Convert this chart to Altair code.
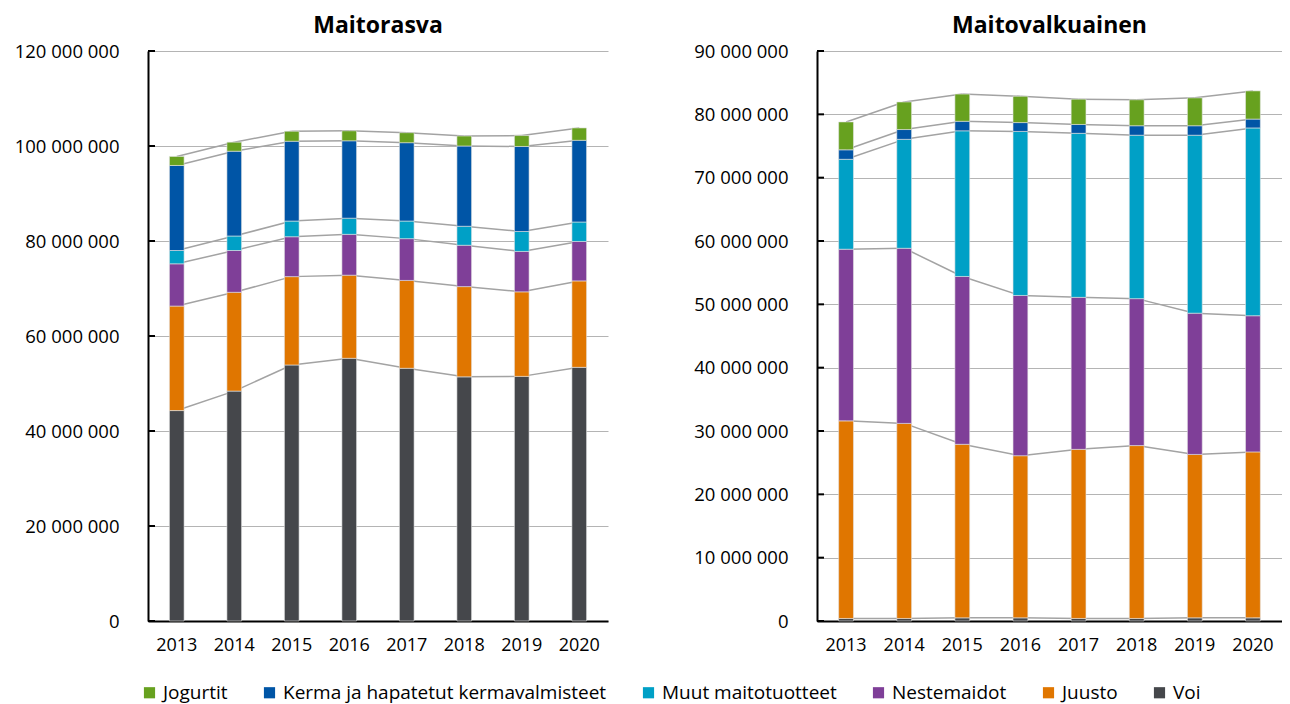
import altair as alt
import pandas as pd

years = ["2013", "2014", "2015", "2016", "2017", "2018", "2019", "2020"]

# stacking order, bottom to top
stack_series = ["Voi", "Juusto", "Nestemaidot", "Muut maitotuotteet",
                "Kerma ja hapatetut kermavalmisteet", "Jogurtit"]
legend_series = ["Jogurtit", "Kerma ja hapatetut kermavalmisteet",
                 "Muut maitotuotteet", "Nestemaidot", "Juusto", "Voi"]
legend_colors = ["#67a11f", "#0055a6", "#00a0c6", "#7f3f98", "#e07600", "#45474b"]

# Maitorasva (millions)
fat_voi = [44.3, 48.4, 53.9, 55.3, 53.2, 51.4, 51.5, 53.4]
fat_juusto = [22.0, 20.8, 18.6, 17.5, 18.5, 19.0, 17.8, 18.2]
fat_nest = [8.9, 8.8, 8.4, 8.6, 8.8, 8.7, 8.5, 8.3]
fat_muut = [2.8, 3.05, 3.3, 3.4, 3.7, 4.0, 4.2, 4.1]
fat_kerma = [17.9, 17.85, 16.8, 16.3, 16.5, 16.9, 17.9, 17.2]
fat_jog = [1.9, 1.9, 2.1, 2.1, 2.1, 2.1, 2.3, 2.6]

# Maitovalkuainen (millions)
prot_voi = [0.4, 0.4, 0.5, 0.5, 0.4, 0.4, 0.5, 0.5]
prot_juusto = [31.2, 30.8, 27.4, 25.6, 26.7, 27.3, 25.8, 26.2]
prot_nest = [27.1, 27.65, 26.5, 25.3, 24.0, 23.2, 22.3, 21.5]
prot_muut = [14.2, 17.2, 23.0, 25.9, 25.9, 25.8, 28.1, 29.65]
prot_kerma = [1.5, 1.55, 1.5, 1.4, 1.4, 1.5, 1.5, 1.4]
prot_jog = [4.4, 4.35, 4.3, 4.15, 4.0, 4.1, 4.4, 4.45]

fat_ticks = [0, 20, 40, 60, 80, 100, 120]
prot_ticks = [0, 10, 20, 30, 40, 50, 60, 70, 80, 90]

FONT = "Open Sans"


def build(series_lists):
    rows, lines = [], []
    cum = [[0.0] * len(years)]
    for k, (name, vals) in enumerate(zip(stack_series, series_lists)):
        prev = cum[-1]
        top = [p + v for p, v in zip(prev, vals)]
        cum.append(top)
        for i, y in enumerate(years):
            rows.append({"year": y, "series": name, "value": vals[i] * 1e6, "order": k})
        for i in range(len(years) - 1):
            lines.append({"year": years[i], "next": years[i + 1],
                          "y0": top[i] * 1e6, "y1": top[i + 1] * 1e6, "series": name})
    return pd.DataFrame(rows), pd.DataFrame(lines)


def panel(series_lists, ticks_m, title, width):
    df, lines = build(series_lists)
    tick_vals = [t * 1e6 for t in ticks_m]
    ymax = tick_vals[-1]
    xscale = alt.Scale(domain=years, paddingInner=0.745, paddingOuter=0.3725)
    yscale = alt.Scale(domain=[0, ymax], nice=False)
    xaxis = alt.Axis(title=None, labelAngle=0, ticks=False, domainColor="black",
                     domainWidth=2, labelFontSize=18, labelPadding=15,
                     labelColor="black", grid=False, labelFont=FONT)
    yaxis = alt.Axis(title=None, values=tick_vals,
                     labelExpr="replace(format(datum.value, ','), /,/g, ' ')",
                     ticks=False, domainColor="black", domainWidth=2,
                     gridColor="#b4b4b4", gridWidth=1, labelFontSize=18.5,
                     labelPadding=29, labelColor="black", labelFont=FONT)

    line_layer = alt.Chart(lines).mark_rule(color="#a3a3a3", strokeWidth=1.5).encode(
        x=alt.X("year:N", scale=xscale, axis=xaxis),
        x2="next:N",
        y=alt.Y("y0:Q", scale=yscale, axis=yaxis),
        y2="y1:Q",
    )
    bars = alt.Chart(df).mark_bar(stroke="#e4e4e4", strokeWidth=0.6).encode(
        x=alt.X("year:N", scale=xscale, axis=xaxis),
        y=alt.Y("value:Q", stack="zero", scale=yscale, axis=yaxis),
        color=alt.Color("series:N",
                        scale=alt.Scale(domain=legend_series, range=legend_colors),
                        legend=alt.Legend(title=None, orient="none", direction="horizontal",
                                          columns=6, legendX=-8, legendY=632,
                                          symbolType="square", symbolSize=125,
                                          symbolStrokeWidth=0, labelFontSize=19,
                                          labelFont=FONT, labelColor="black",
                                          columnPadding=32, labelOffset=4,
                                          labelLimit=600)),
        order=alt.Order("order:Q", sort="ascending"),
    )
    tick_df = pd.DataFrame({"t": tick_vals})
    tick_layer = alt.Chart(tick_df).mark_rule(color="black", strokeWidth=2).encode(
        y=alt.Y("t:Q", scale=yscale, axis=yaxis),
        x=alt.value(0),
        x2=alt.value(7),
    )
    return alt.layer(line_layer, bars, tick_layer).properties(
        width=width, height=570,
        title=alt.TitleParams(title, fontSize=23, fontWeight="bold", anchor="middle",
                              frame="group", offset=4, color="black", font=FONT),
    )


left = panel([fat_voi, fat_juusto, fat_nest, fat_muut, fat_kerma, fat_jog], fat_ticks,
             "Maitorasva", 460)
right = panel([prot_voi, prot_juusto, prot_nest, prot_muut, prot_kerma, prot_jog],
              prot_ticks, "Maitovalkuainen", 465)

chart = alt.hconcat(left, right, spacing=209, bounds="flush").properties(
    padding={"left": 6, "top": 7, "right": 0, "bottom": 8}
).configure(font=FONT).configure_view(stroke=None)

chart.save("out.html", embed_options={"renderer": "svg", "actions": False})
